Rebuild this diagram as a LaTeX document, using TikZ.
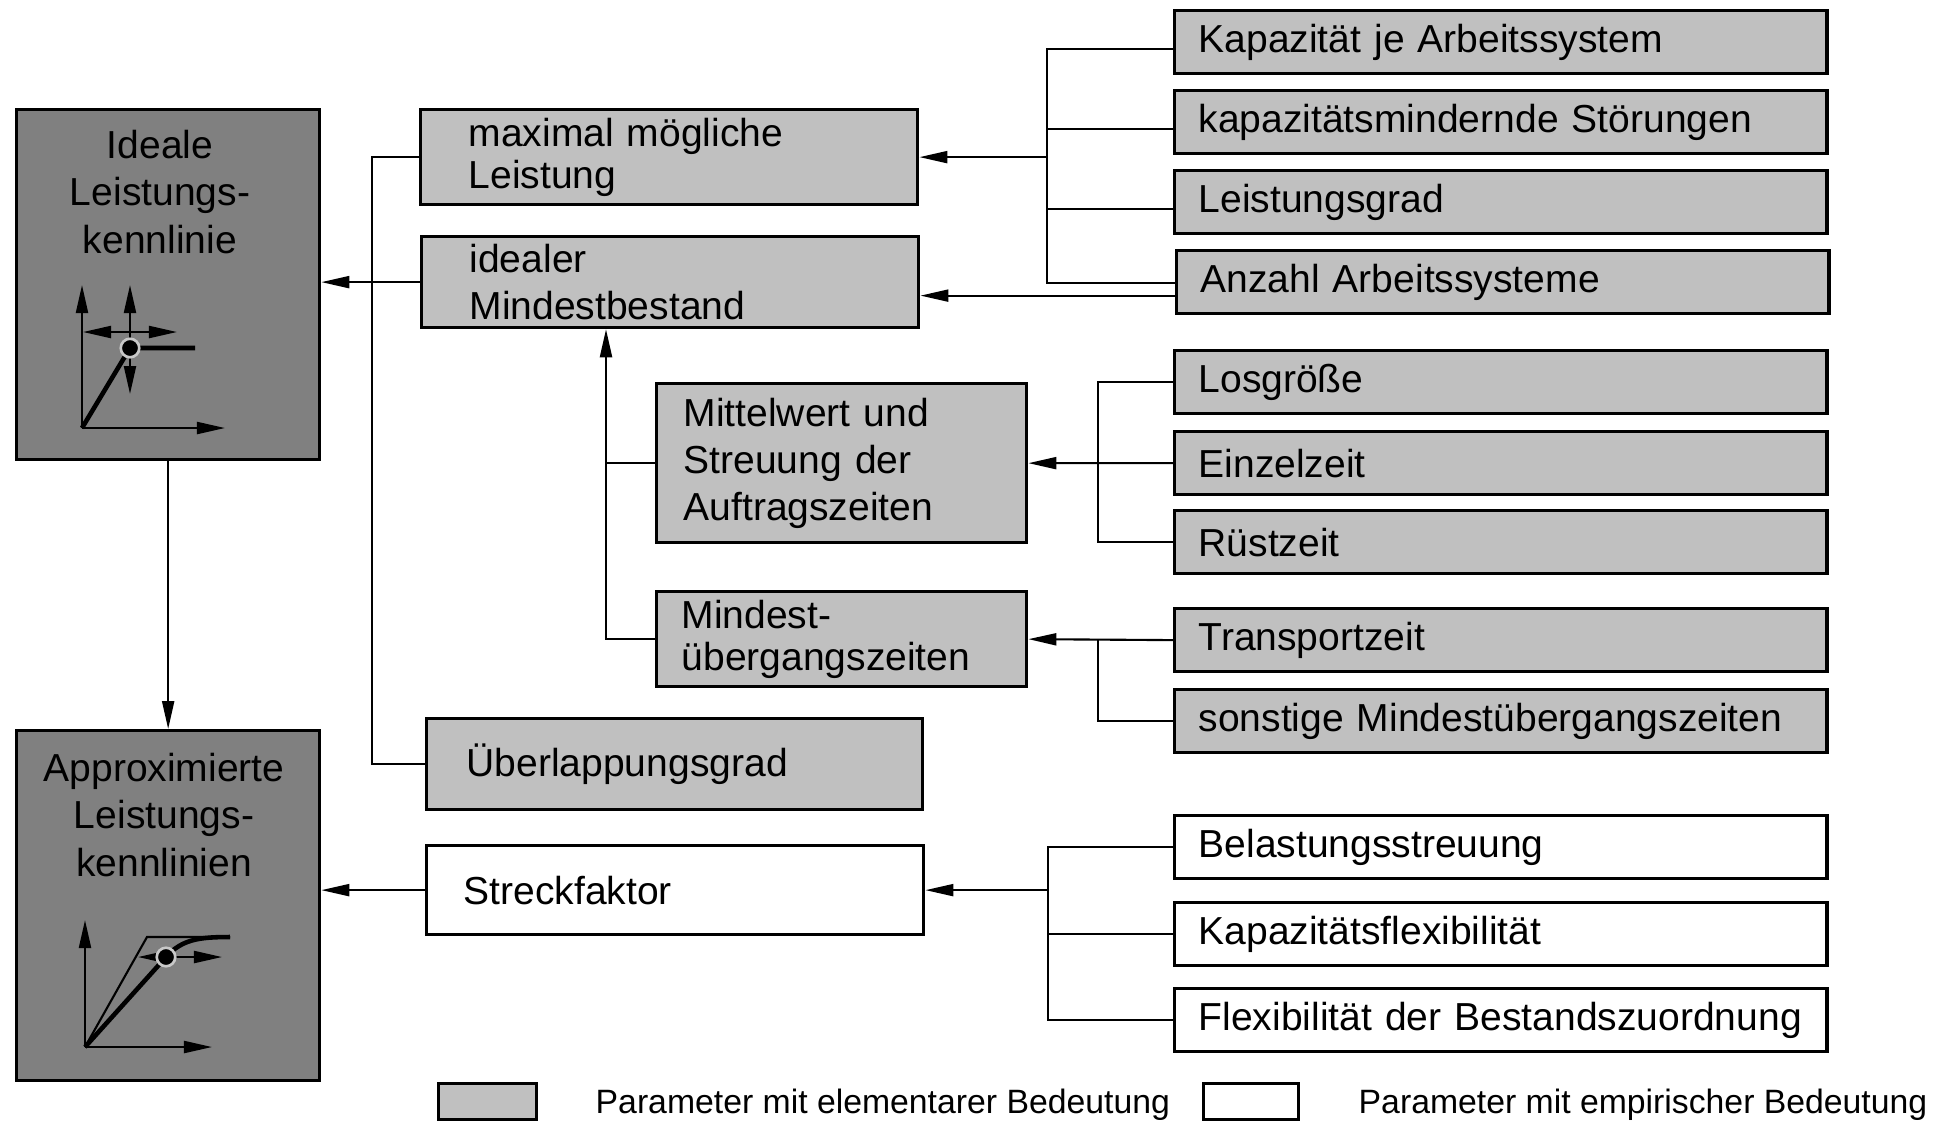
\documentclass[tikz,border=0pt]{standalone}
\usepackage{fontspec}
\setmainfont{Liberation Sans}
\usetikzlibrary{arrows.meta}
\definecolor{elemgray}{RGB}{192,192,192}
\definecolor{kenngray}{RGB}{128,128,128}
\definecolor{ringgray}{RGB}{200,200,200}
\newcommand{\boxfont}{\fontsize{11.1}{13.4}\selectfont}
\newcommand{\legfont}{\fontsize{9.6}{11.5}\selectfont}
\tikzset{
  param/.style = {draw=black, line width=0.9pt, anchor=north west, align=left,
    inner ysep=0pt, font=\boxfont},
  elem_n/.style = {param, fill=elemgray},% Parameter, elementare Bedeutung
  emp_n/.style = {param, fill=white},% Parameter, empirische Bedeutung
  right_n/.style = {text width=6.04cm, inner xsep=2.4mm, minimum height=6.3mm},
  kenn_n/.style = {draw=black, line width=0.9pt, fill=kenngray, anchor=north west,
    minimum width=3.03cm, minimum height=3.5cm, inner sep=0pt},% Kennlinie
  title_n/.style = {align=center, font=\boxfont, inner sep=0pt},
  legend_n/.style = {draw=black, line width=0.9pt, anchor=north west,
    minimum width=0.98cm, minimum height=0.36cm, inner sep=0pt},
  legtxt_n/.style = {anchor=west, font=\legfont, inner sep=0pt},
  link/.style = {draw, line width=0.6pt},
  arr/.style = {link, ->},
  axis/.style = {line width=0.6pt, ->},
  kurve/.style = {line width=1.3pt},
  punkt/.style = {circle, fill=black, draw=ringgray, line width=0.75pt,
    minimum size=0.185cm, inner sep=0pt},% Betriebspunkt
}

\begin{document}
\begin{tikzpicture}[x=0.01cm, y=-0.01cm, >={Triangle[length=2.8mm,width=1.2mm]}]
\useasboundingbox (0,0) rectangle (1943,1120);

% Kennlinien
\node [kenn_n] (ikl) at (15,108) {};
\node [kenn_n] (akl) at (15,729) {};
\node [title_n] (ikltxt) at (160,192) {Ideale\\Leistungs-\\kennlinie};
\node [title_n] (akltxt) at (164,815) {Approximierte\\Leistungs-\\kennlinien};

% ideale Kennlinie
\coordinate (io) at (82,428);
\coordinate (ip) at (130,348);
\draw[axis] (io) -- (82,285);
\draw[axis] (io) -- (225,428);
\draw[axis, <->] (83,332) -- (177,332);
\draw[axis, <->] (130,285) -- (130,394);
\draw[kurve] (io) -- (ip) -- (195,348);
\node [punkt] (ipt) at (ip) {};

% approximierte Kennlinie
\coordinate (ao) at (85,1047);
\coordinate (ap) at (166,957);
\draw[axis] (ao) -- (85,920);
\draw[axis] (ao) -- (212,1047);
\draw[line width=0.6pt] (ao) -- (147,937) -- (230,937);
\draw[kurve] (ao) -- (ap) .. controls (182,939) and (200,937) .. (230,937);
\draw[axis] (ap) -- (138,957);
\draw[axis] (ap) -- (222,957);
\node [punkt] (apt) at (ap) {};

% mittlere Ebene
\node [elem_n, text width=4.01cm, inner xsep=4.8mm, minimum height=9.5mm] (maxl) at (419,108) {maximal mögliche\\[-0.5mm]Leistung};
\node [elem_n, text width=4.01cm, inner xsep=4.8mm, minimum height=9.1mm] (ideal) at (420,235) {idealer\\Mindestbestand};
\node [elem_n, text width=3.16cm, inner xsep=2.7mm, minimum height=15.9mm] (mittel) at (655,382) {Mittelwert und\\Streuung der\\Auftragszeiten};
\node [elem_n, text width=3.2cm, inner xsep=2.5mm, minimum height=9.5mm] (muez) at (655,590) {Mindest-\\[-0.5mm]übergangszeiten};
\node [elem_n, text width=4.16cm, inner xsep=4mm, minimum height=9.1mm] (ueber) at (425,717) {Überlappungsgrad};
\node [emp_n, text width=4.23cm, inner xsep=3.7mm, minimum height=8.9mm] (streck) at (425,844) {Streckfaktor};

% rechte Ebene
\node [elem_n, right_n] (kap) at (1173,9) {Kapazität je Arbeitssystem};
\node [elem_n, right_n] (stoer) at (1173,89) {kapazitätsmindernde Störungen};
\node [elem_n, right_n] (lgrad) at (1173,169) {Leistungsgrad};
\node [elem_n, right_n] (anz) at (1175,249) {Anzahl Arbeitssysteme};
\node [elem_n, right_n] (los) at (1173,349) {Losgröße};
\node [elem_n, right_n] (einzel) at (1173,430) {Einzelzeit};
\node [elem_n, right_n] (ruest) at (1173,509) {Rüstzeit};
\node [elem_n, right_n] (trans) at (1173,607) {Transportzeit};
\node [elem_n, right_n] (sonst) at (1173,688) {sonstige Mindestübergangszeiten};
\node [emp_n, right_n] (belast) at (1173,814) {Belastungsstreuung};
\node [emp_n, right_n] (kflex) at (1173,901) {Kapazitätsflexibilität};
\node [emp_n, right_n] (bflex) at (1173,987) {Flexibilität der Bestandszuordnung};

% Legende
\node [legend_n, fill=elemgray] (legelem) at (437,1082) {};
\node [legend_n, fill=white, minimum width=0.95cm] (legemp) at (1202,1082) {};
\node [legtxt_n] (legelemtxt) at (595,1105) {Parameter mit elementarer Bedeutung};
\node [legtxt_n] (legemptxt) at (1358,1105) {Parameter mit empirischer Bedeutung};

% Verbindungen
\coordinate (spA) at (1047,0);
\coordinate (spB) at (1098,0);
\coordinate (spC) at (1048,0);
\coordinate (spD) at (606,0);
\coordinate (spE) at (372,0);
\path ([yshift=-0.7mm]kap.west) coordinate (kapin)
      ([yshift=-0.7mm]stoer.west) coordinate (stoerin)
      ([yshift=-0.7mm]lgrad.west) coordinate (lgradin)
      ([yshift=-0.1mm]anz.west) coordinate (anzin)
      ([yshift=-1.35mm]anz.west) coordinate (anzout);

\draw[link] (kapin) -| (spA |- anzin) -- (anzin);
\draw[link] (stoerin) -- (stoerin -| spA);
\draw[link] (lgradin) -- (lgradin -| spA);
\draw[arr] (spA |- maxl.east) -- (maxl.east);
\draw[arr] (anzout) -- (anzout -| ideal.east);

\draw[link] (maxl.west) -| (spE |- ueber.west) -- (ueber.west);
\draw[arr] (ideal.west) -- (ideal.west -| ikl.east);

\draw[link] (los.west) -| (spB |- ruest.west) -- (ruest.west);
\draw[arr] (einzel.west) -- (mittel.east);
\draw[link] (sonst.west) -| (spB |- trans.west);
\draw[arr] (trans.west) -- (muez.east);
\draw[link] (mittel.west) -- (mittel.west -| spD);
\draw[arr] (muez.west) -| (spD |- ideal.south);

\draw[link] (belast.west) -| (spC |- bflex.west) -- (bflex.west);
\draw[link] (kflex.west) -- (kflex.west -| spC);
\draw[arr] (spC |- streck.east) -- (streck.east);
\draw[arr] (streck.west) -- (streck.west -| akl.east);

\draw[arr] (ikl.south) -- (akl.north);
\end{tikzpicture}
\end{document}
